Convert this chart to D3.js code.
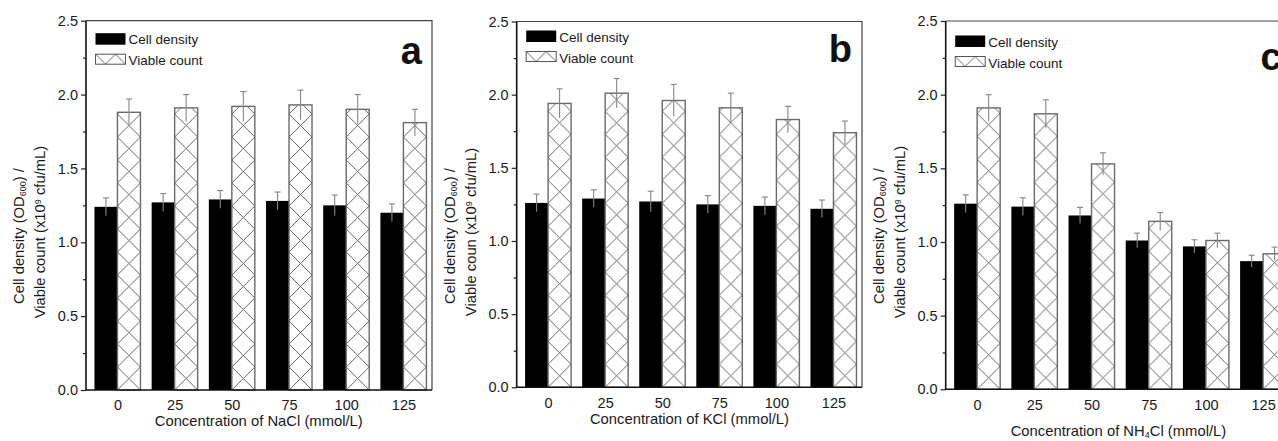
<!DOCTYPE html>
<html>
<head>
<meta charset="utf-8">
<title>Cell density and viable count</title>
<style>
body { margin: 0; background: #fff; }
svg text { font-family: "Liberation Sans", Arial, sans-serif; fill: #1a1a1a; }
.tick text { font-size: 14.5px; }
.tick line { stroke: #222; stroke-width: 1.2px; }
</style>
</head>
<body>
<script src="https://cdn.jsdelivr.net/npm/d3@7"></script>
<script>

// concentrations (mmol/L)
var categories = ["0", "25", "50", "75", "100", "125"];

// panel a: NaCl
var densityA    = [1.24, 1.27, 1.29, 1.28, 1.25, 1.20];
var densityErrA = [0.06, 0.06, 0.06, 0.06, 0.07, 0.06];
var viableA     = [1.88, 1.91, 1.92, 1.93, 1.90, 1.81];
var viableErrA  = [0.09, 0.09, 0.10, 0.10, 0.10, 0.09];

// panel b: KCl
var densityB    = [1.26, 1.29, 1.27, 1.25, 1.24, 1.22];
var densityErrB = [0.06, 0.06, 0.07, 0.06, 0.06, 0.06];
var viableB     = [1.94, 2.01, 1.96, 1.91, 1.83, 1.74];
var viableErrB  = [0.10, 0.10, 0.11, 0.10, 0.09, 0.08];

// panel c: NH4Cl
var densityC    = [1.26, 1.24, 1.18, 1.01, 0.97, 0.87];
var densityErrC = [0.06, 0.06, 0.055, 0.05, 0.045, 0.04];
var viableC     = [1.91, 1.87, 1.53, 1.14, 1.01, 0.92];
var viableErrC  = [0.09, 0.095, 0.075, 0.06, 0.05, 0.045];

var yTicks = [0, 0.5, 1.0, 1.5, 2.0, 2.5];
var yMinorTicks = [0.25, 0.75, 1.25, 1.75, 2.25];
var seriesNames = ["Cell density", "Viable count"];

var W = 1278, H = 441;
var barW = 23;

var panels = [
  {letter: "a", density: densityA, densityErr: densityErrA, viable: viableA, viableErr: viableErrA,
   salt: [["Concentration of NaCl (mmol/L)", 0]],
   ytitle2: "Viable count (x10",
   left: 86, top: 20.7, right: 432, bottom: 390, legendDy: 12.5, letterY: 64, xTitleY: 426},
  {letter: "b", density: densityB, densityErr: densityErrB, viable: viableB, viableErr: viableErrB,
   salt: [["Concentration of KCl (mmol/L)", 0]],
   ytitle2: "Viable coun (x10",
   left: 516.7, top: 21.5, right: 862, bottom: 387.3, legendDy: 9, letterY: 62, xTitleY: 424},
  {letter: "c", density: densityC, densityErr: densityErrC, viable: viableC, viableErr: viableErrC,
   salt: [["Concentration of NH", 0], ["4", 1], ["Cl (mmol/L)", 0]],
   ytitle2: "Viable count (x10",
   left: 945.7, top: 21, right: 1291.7, bottom: 389.3, legendDy: 14.5, letterY: 70, xTitleY: 436}
];

var svg = d3.select("body").append("svg")
    .attr("width", W)
    .attr("height", H);

var defs = svg.append("defs");

// cross hatch pattern, one per bar so the diamonds line up with the bar edges
function hatch(id, x0, y0, size) {
  var p = defs.append("pattern")
      .attr("id", id)
      .attr("patternUnits", "userSpaceOnUse")
      .attr("x", x0).attr("y", y0)
      .attr("width", size).attr("height", size);
  p.append("rect").attr("width", size).attr("height", size).attr("fill", "#fff");
  p.append("path")
      .attr("d", "M0,0L" + size + "," + size + "M" + size + ",0L0," + size)
      .attr("stroke", "#555")
      .attr("stroke-width", 0.9)
      .attr("fill", "none");
  return "url(#" + id + ")";
}

panels.forEach(function(P, pi) {
  var g = svg.append("g");

  var x = d3.scaleLinear().domain([-0.55, 5.5]).range([P.left, P.right]);
  var y = d3.scaleLinear().domain([0, 2.5]).range([P.bottom, P.top]);

  // frame (top/right)
  g.append("path")
      .attr("d", "M" + P.left + "," + P.top + "H" + P.right + "V" + P.bottom)
      .attr("fill", "none")
      .attr("stroke", "#444")
      .attr("stroke-width", 1.2);

  // bars
  categories.forEach(function(c, i) {
    var cx = x(i);
    // cell density (solid)
    g.append("rect")
        .attr("x", cx - barW)
        .attr("y", y(P.density[i]))
        .attr("width", barW)
        .attr("height", y(0) - y(P.density[i]))
        .attr("fill", "#000");
    // viable count (hatched)
    var fill = hatch("h" + pi + "_" + i, cx, y(0), barW);
    g.append("rect")
        .attr("x", cx)
        .attr("y", y(P.viable[i]))
        .attr("width", barW)
        .attr("height", y(0) - y(P.viable[i]))
        .attr("fill", fill)
        .attr("stroke", "#6a6a6a")
        .attr("stroke-width", 1.4);
  });

  // error bars
  var errs = [];
  categories.forEach(function(c, i) {
    errs.push({cx: x(i) - barW / 2, v: P.density[i], e: P.densityErr[i]});
    errs.push({cx: x(i) + barW / 2, v: P.viable[i], e: P.viableErr[i]});
  });
  var eb = g.append("g").attr("stroke", "#858585").attr("stroke-width", 1.1);
  eb.selectAll("line.v").data(errs).enter().append("line")
      .attr("class", "v")
      .attr("x1", function(d) { return d.cx; })
      .attr("x2", function(d) { return d.cx; })
      .attr("y1", function(d) { return y(d.v - d.e); })
      .attr("y2", function(d) { return y(d.v + d.e); });
  eb.selectAll("line.cap").data(errs).enter().append("line")
      .attr("class", "cap")
      .attr("x1", function(d) { return d.cx - 3; })
      .attr("x2", function(d) { return d.cx + 3; })
      .attr("y1", function(d) { return y(d.v + d.e); })
      .attr("y2", function(d) { return y(d.v + d.e); });

  // y axis: major and minor ticks
  var yAxis = g.append("g")
      .attr("transform", "translate(" + P.left + ",0)")
      .call(d3.axisLeft(y).tickValues(yTicks).tickSize(5).tickPadding(3).tickFormat(d3.format(".1f")));
  yAxis.select(".domain").remove();
  var yMinor = g.append("g")
      .attr("transform", "translate(" + P.left + ",0)")
      .call(d3.axisLeft(y).tickValues(yMinorTicks).tickSize(3).tickFormat(""));
  yMinor.select(".domain").remove();

  // x axis (labels only)
  var xAxis = g.append("g")
      .attr("transform", "translate(0," + P.bottom + ")")
      .call(d3.axisBottom(x).tickValues(d3.range(categories.length)).tickSize(0).tickPadding(10)
            .tickFormat(function(i) { return categories[i]; }));
  xAxis.select(".domain").remove();

  // axis lines
  g.append("path")
      .attr("d", "M" + P.left + "," + P.top + "V" + P.bottom + "H" + P.right)
      .attr("fill", "none")
      .attr("stroke", "#111")
      .attr("stroke-width", 1.6);

  // x title
  var xt = g.append("text")
      .attr("x", (P.left + 345.5 / 2))
      .attr("y", P.xTitleY)
      .attr("text-anchor", "middle")
      .style("font-size", "14.8px");
  P.salt.forEach(function(s) {
    var t = xt.append("tspan").text(s[0]);
    if (s[1]) t.style("font-size", "9px").attr("baseline-shift", "-25%");
  });

  // y title (two lines)
  var cy = 236;
  var yt1 = g.append("text")
      .attr("transform", "translate(" + (P.left - 62) + "," + cy + ") rotate(-90)")
      .attr("text-anchor", "middle")
      .style("font-size", "14.8px");
  yt1.append("tspan").text("Cell density (OD");
  yt1.append("tspan").text("600").style("font-size", "9px").attr("baseline-shift", "-25%");
  yt1.append("tspan").text(") /");
  var yt2 = g.append("text")
      .attr("transform", "translate(" + (P.left - 41) + "," + (cy - 4) + ") rotate(-90)")
      .attr("text-anchor", "middle")
      .style("font-size", "14.8px");
  yt2.append("tspan").text(P.ytitle2);
  yt2.append("tspan").text("9").style("font-size", "9px").attr("baseline-shift", "45%");
  yt2.append("tspan").text(" cfu/mL)");

  // legend
  var lx = P.left + 9.5, ly = P.top + P.legendDy;
  var leg = g.append("g");
  leg.append("rect")
      .attr("x", lx).attr("y", ly)
      .attr("width", 30).attr("height", 11.5)
      .attr("fill", "#000");
  var lfill = hatch("lh" + pi, lx, ly + 21, 20);
  leg.append("rect")
      .attr("x", lx).attr("y", ly + 21)
      .attr("width", 30).attr("height", 10)
      .attr("fill", lfill)
      .attr("stroke", "#555")
      .attr("stroke-width", 1);
  leg.selectAll("text.l").data(seriesNames).enter().append("text")
      .attr("class", "l")
      .attr("x", lx + 33)
      .attr("y", function(d, k) { return ly + 11 + k * 21; })
      .style("font-size", "13.5px")
      .text(function(d) { return d; });

  // panel letter
  g.append("text")
      .attr("x", P.right - 10)
      .attr("y", P.letterY)
      .attr("text-anchor", "end")
      .style("font-size", "38px")
      .style("font-weight", "bold")
      .style("fill", "#111")
      .text(P.letter);
});

</script>
</body>
</html>
